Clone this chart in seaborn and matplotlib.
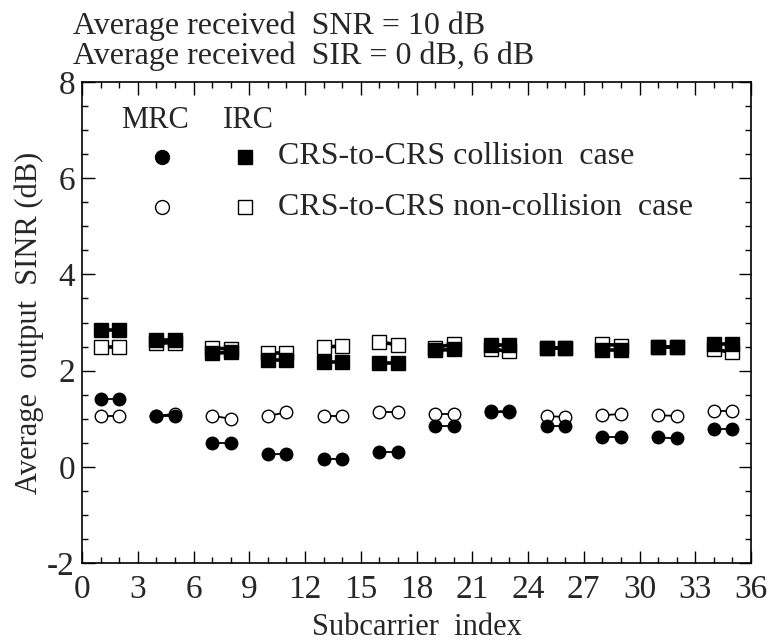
import numpy as np
import pandas as pd
import matplotlib
matplotlib.use("Agg")
import matplotlib.pyplot as plt
import seaborn as sns

# ---- data ----
subcarrier = [1, 2, 4, 5, 7, 8, 10, 11, 13, 14, 16, 17, 19, 20, 22, 23, 25, 26, 28, 29, 31, 32, 34, 35]
pair_id = [i // 2 for i in range(len(subcarrier))]
mrc_collision = [1.41, 1.41, 1.05, 1.05, 0.49, 0.49, 0.26, 0.26, 0.16, 0.16, 0.31, 0.31,
                 0.85, 0.85, 1.15, 1.16, 0.84, 0.84, 0.61, 0.61, 0.61, 0.59, 0.78, 0.78]
mrc_noncollision = [1.05, 1.05, 1.06, 1.10, 1.06, 1.00, 1.06, 1.13, 1.05, 1.05, 1.13, 1.13,
                    1.10, 1.10, 1.14, 1.14, 1.05, 1.04, 1.07, 1.10, 1.07, 1.06, 1.15, 1.15]
irc_collision = [2.84, 2.84, 2.64, 2.64, 2.36, 2.38, 2.23, 2.23, 2.18, 2.18, 2.15, 2.15,
                 2.42, 2.44, 2.53, 2.53, 2.47, 2.47, 2.42, 2.42, 2.50, 2.50, 2.55, 2.55]
irc_noncollision = [2.49, 2.49, 2.57, 2.58, 2.47, 2.45, 2.37, 2.37, 2.49, 2.51, 2.60, 2.53,
                    2.48, 2.55, 2.45, 2.40, 2.47, 2.47, 2.55, 2.52, 2.50, 2.50, 2.44, 2.38]
x_ticks = list(range(0, 37, 3))
y_ticks = [-2, 0, 2, 4, 6, 8]
title_lines = ["Average received  SNR = 10 dB", "Average received  SIR = 0 dB, 6 dB"]
legend_rows = ["CRS-to-CRS collision  case", "CRS-to-CRS non-collision  case"]

sns.set_style("ticks")
plt.rcParams["font.family"] = ["Liberation Serif", "DejaVu Serif"]
plt.rcParams["axes.unicode_minus"] = False

fig = plt.figure(figsize=(7.69, 6.41), dpi=100)
W, H = 769, 641
L, R, T, B = 82, 751, 82, 563
ax = fig.add_axes([L / W, 1 - B / H, (R - L) / W, (B - T) / H])

df = pd.DataFrame({"x": subcarrier, "pair": pair_id,
                   "mrc_c": mrc_collision, "mrc_n": mrc_noncollision,
                   "irc_c": irc_collision, "irc_n": irc_noncollision})

styles = [
    ("mrc_n", "o", "white", 9, 1.3, 2),
    ("mrc_c", "o", "black", 9, 1.3, 3),
    ("irc_n", "s", "white", 10, 2.6, 4),
    ("irc_c", "s", "black", 10, 2.6, 5),
]
for col, mk, fc, ms, lw, z in styles:
    sns.lineplot(data=df, x="x", y=col, units="pair", estimator=None, sort=False,
                 color="black", lw=lw, marker=mk, markersize=ms,
                 markerfacecolor=fc, markeredgecolor="black", markeredgewidth=1.0,
                 ax=ax, zorder=z, legend=False)

ax.set_xlim(0, 36)
ax.set_ylim(-2, 8)
ax.set_xticks(x_ticks)
ax.set_yticks(y_ticks)
ax.set_xticks(np.arange(0, 37, 1), minor=True)
ax.set_yticks(np.arange(-2, 8.01, 0.5), minor=True)
ax.tick_params(which="both", direction="in", top=True, right=True, width=1.0, color="black")
ax.tick_params(which="major", length=9, labelsize=24)
ax.tick_params(axis="x", which="major", pad=8)
ax.tick_params(axis="y", which="major", pad=5)
ax.tick_params(which="minor", length=4.5)
for s in ax.spines.values():
    s.set_linewidth(1.2)
    s.set_color("black")

ax.set_xlabel("Subcarrier  index", fontsize=22, labelpad=6)
ax.set_ylabel("Average  output  SINR (dB)", fontsize=22, labelpad=2)

# legend drawn inside the axes
ax.text(3.95, 7.2, "MRC", fontsize=22, ha="center", va="center")
ax.text(8.95, 7.2, "IRC", fontsize=22, ha="center", va="center")
ax.plot([4.3], [6.45], "o", ms=10, mfc="black", mec="black", mew=1.0)
ax.plot([4.3], [5.4], "o", ms=10, mfc="white", mec="black", mew=1.0)
ax.plot([8.75], [6.45], "s", ms=10.5, mfc="black", mec="black", mew=1.0)
ax.plot([8.75], [5.4], "s", ms=10.5, mfc="white", mec="black", mew=1.0)
ax.text(10.55, 6.45, legend_rows[0], fontsize=23, ha="left", va="center")
ax.text(10.55, 5.4, legend_rows[1], fontsize=23, ha="left", va="center")

fig.text(73 / W, 1 - 34 / H, title_lines[0], fontsize=23, ha="left", va="baseline")
fig.text(73 / W, 1 - 64 / H, title_lines[1], fontsize=23, ha="left", va="baseline")

fig.savefig("out.png", dpi=100)
